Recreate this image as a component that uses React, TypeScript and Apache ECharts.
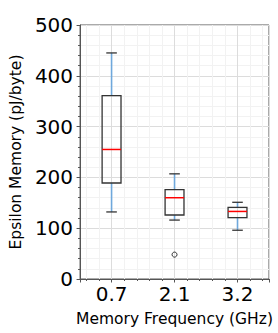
import React, { useEffect, useRef } from "react";
import * as echarts from "echarts";

const categories = ["0.7", "2.1", "3.2"];
const lowWhisker = [132, 116, 96];
const q1 = [189, 126, 121];
const median = [255, 160, 133];
const q3 = [361, 176, 141];
const highWhisker = [445, 207, 151];
const outlierCategory = [1];
const outlierValue = [48];
const yTicks = [0, 100, 200, 300, 400, 500];

const FONT = "DejaVu Sans";

export default function App() {
  const ref = useRef<HTMLDivElement>(null);
  useEffect(() => {
    if (!ref.current) return;
    document.body.style.margin = "0";
    const chart = echarts.init(ref.current, null, { renderer: "svg" });
    const boxData = categories.map((_, i) => [
      i + 1,
      lowWhisker[i],
      q1[i],
      median[i],
      q3[i],
      highWhisker[i],
    ]);
    const outData = outlierCategory.map((c, i) => [c + 1, outlierValue[i]]);
    const axisColor = "#555555";
    chart.setOption({
      animation: false,
      grid: {
        left: 72,
        top: 25,
        right: 9,
        bottom: 54,
        show: true,
        borderColor: axisColor,
        borderWidth: 1,
      },
      xAxis: {
        type: "value",
        min: 0.5,
        max: 3.5,
        splitNumber: 3,
        minInterval: 1,
        maxInterval: 1,
        name: "Memory Frequency (GHz)",
        nameLocation: "middle",
        nameGap: 32,
        nameTextStyle: { fontFamily: FONT, fontSize: 15.5, color: "#000" },
        axisLine: { show: true, lineStyle: { color: axisColor, width: 1 } },
        axisTick: { show: true, length: 3.5, lineStyle: { color: axisColor } },
        minorTick: { show: true, splitNumber: 5, length: 2, lineStyle: { color: axisColor } },
        splitLine: { show: true, lineStyle: { color: "#dcdcdc", width: 1 } },
        minorSplitLine: { show: true, lineStyle: { color: "#f2f2f2", width: 1 } },
        axisLabel: {
          showMinLabel: false,
          showMaxLabel: false,
          fontFamily: FONT,
          fontSize: 20,
          color: "#000",
          margin: 5,
          formatter: (v: number) => {
            const idx = Math.round(v) - 1;
            return Math.abs(v - Math.round(v)) < 1e-6 && categories[idx] ? categories[idx] : "";
          },
        },
      },
      yAxis: {
        type: "value",
        min: yTicks[0],
        max: yTicks[yTicks.length - 1],
        interval: 100,
        name: "Epsilon Memory (pJ/byte)",
        nameLocation: "middle",
        nameGap: 48,
        nameTextStyle: { fontFamily: FONT, fontSize: 15.5, color: "#000" },
        axisLine: { show: true, lineStyle: { color: axisColor, width: 1 } },
        axisTick: { show: true, length: 3.5, lineStyle: { color: axisColor } },
        minorTick: { show: true, splitNumber: 5, length: 2, lineStyle: { color: axisColor } },
        splitLine: { show: true, lineStyle: { color: "#dcdcdc", width: 1 } },
        minorSplitLine: { show: true, lineStyle: { color: "#f2f2f2", width: 1 } },
        axisLabel: {
          fontFamily: FONT,
          fontSize: 20,
          color: "#000",
          margin: 7,
        },
      },
      series: [
        {
          type: "custom",
          data: boxData,
          encode: { x: 0, y: [1, 2, 3, 4, 5] },
          renderItem: (params: any, api: any) => {
            const x = api.value(0);
            const lo = api.coord([x, api.value(1)]);
            const b1 = api.coord([x, api.value(2)]);
            const md = api.coord([x, api.value(3)]);
            const b3 = api.coord([x, api.value(4)]);
            const hi = api.coord([x, api.value(5)]);
            const bw = api.size([1, 0])[0] * 0.3;
            const cw = bw * 0.56;
            const cx = lo[0];
            const whisk = { stroke: "#6fa8dc", lineWidth: 1.6 };
            const black = { stroke: "#333333", lineWidth: 1.3 };
            return {
              type: "group",
              children: [
                { type: "line", shape: { x1: cx, y1: lo[1], x2: cx, y2: b1[1] }, style: whisk },
                { type: "line", shape: { x1: cx, y1: b3[1], x2: cx, y2: hi[1] }, style: whisk },
                { type: "line", shape: { x1: cx - cw / 2, y1: lo[1], x2: cx + cw / 2, y2: lo[1] }, style: black },
                { type: "line", shape: { x1: cx - cw / 2, y1: hi[1], x2: cx + cw / 2, y2: hi[1] }, style: black },
                {
                  type: "rect",
                  shape: { x: cx - bw / 2, y: b3[1], width: bw, height: b1[1] - b3[1] },
                  style: { fill: "none", stroke: "#333333", lineWidth: 1.3 },
                },
                { type: "line", shape: { x1: cx - bw / 2, y1: md[1], x2: cx + bw / 2, y2: md[1] }, style: { stroke: "#ff0000", lineWidth: 1.5 } },
              ],
            };
          },
        },
        {
          type: "scatter",
          data: outData,
          symbol: "circle",
          symbolSize: 5,
          itemStyle: { color: "transparent", borderColor: "#000", borderWidth: 1 },
        },
      ],
    });
    return () => chart.dispose();
  }, []);
  return <div ref={ref} style={{ width: 278, height: 333 }} />;
}
